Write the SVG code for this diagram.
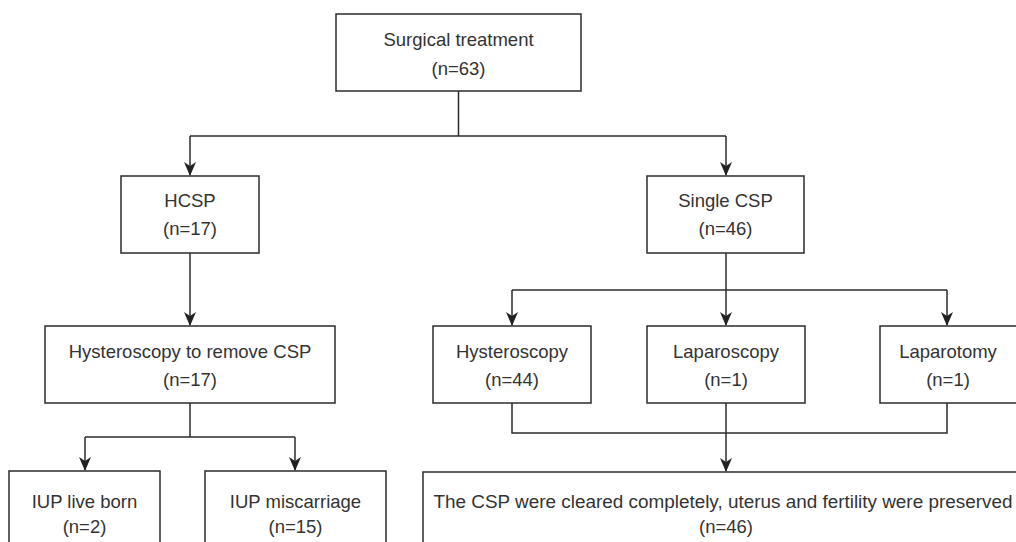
<svg xmlns="http://www.w3.org/2000/svg" width="1016" height="542" viewBox="0 0 1016 542">
<style>
.box{fill:#fff;stroke:#2b2b2b;stroke-width:1.5}
.t{font-family:"Liberation Sans",Arial,Helvetica,sans-serif;font-size:18.5px;fill:#333;text-anchor:middle}
.c{fill:none;stroke:#2b2b2b;stroke-width:1.5}
</style>
<defs>
<marker id="ah" markerUnits="userSpaceOnUse" markerWidth="14" markerHeight="12" viewBox="0 0 14 12" refX="13" refY="6" orient="auto">
<path d="M0,0 L14,6 L0,12 L4,6 z" fill="#222"/>
</marker>
</defs>
<rect width="1016" height="542" fill="#fff"/>
<g id="connectors">
<path class="c" d="M458.5,91 V136"/>
<path class="c" d="M190,136 H726"/>
<path class="c" d="M190,136 V175" marker-end="url(#ah)"/>
<path class="c" d="M726,136 V175" marker-end="url(#ah)"/>
<path class="c" d="M190,253 V325" marker-end="url(#ah)"/>
<path class="c" d="M190,403 V437"/>
<path class="c" d="M85,437 H295"/>
<path class="c" d="M85,437 V470" marker-end="url(#ah)"/>
<path class="c" d="M295,437 V470" marker-end="url(#ah)"/>
<path class="c" d="M726,253 V290"/>
<path class="c" d="M512,290 H947"/>
<path class="c" d="M512,290 V325" marker-end="url(#ah)"/>
<path class="c" d="M726,290 V325" marker-end="url(#ah)"/>
<path class="c" d="M947,290 V325" marker-end="url(#ah)"/>
<path class="c" d="M512,403 V433 H947 V403"/>
<path class="c" d="M726,403 V471" marker-end="url(#ah)"/>
</g>
<g id="surgical">
<rect class="box" x="336" y="14" width="245" height="77"/>
<text class="t" x="458.5" y="46">Surgical treatment</text>
<text class="t" x="458.5" y="75">(n=63)</text>
</g>
<g id="hcsp">
<rect class="box" x="121" y="176" width="138" height="77"/>
<text class="t" x="190" y="207">HCSP</text>
<text class="t" x="190" y="235">(n=17)</text>
</g>
<g id="single">
<rect class="box" x="647" y="176" width="157" height="77"/>
<text class="t" x="725.5" y="207">Single CSP</text>
<text class="t" x="725.5" y="235">(n=46)</text>
</g>
<g id="hyst-remove">
<rect class="box" x="45" y="326" width="290" height="77"/>
<text class="t" x="190" y="358">Hysteroscopy to remove CSP</text>
<text class="t" x="190" y="386">(n=17)</text>
</g>
<g id="hysteroscopy">
<rect class="box" x="433" y="326" width="158" height="77"/>
<text class="t" x="512" y="358">Hysteroscopy</text>
<text class="t" x="512" y="386">(n=44)</text>
</g>
<g id="laparoscopy">
<rect class="box" x="647" y="326" width="158" height="77"/>
<text class="t" x="726" y="358">Laparoscopy</text>
<text class="t" x="726" y="386">(n=1)</text>
</g>
<g id="laparotomy">
<rect class="box" x="880" y="326" width="140" height="77"/>
<text class="t" x="948" y="358">Laparotomy</text>
<text class="t" x="948" y="386">(n=1)</text>
</g>
<g id="live-born">
<rect class="box" x="9" y="471" width="151" height="90"/>
<text class="t" x="84.5" y="508">IUP live born</text>
<text class="t" x="84.5" y="533">(n=2)</text>
</g>
<g id="miscarriage">
<rect class="box" x="205" y="471" width="181" height="90"/>
<text class="t" x="295.5" y="508">IUP miscarriage</text>
<text class="t" x="295.5" y="533">(n=15)</text>
</g>
<g id="cleared">
<rect class="box" x="423" y="472" width="620" height="90"/>
<text class="t" x="723" y="508" style="font-size:18.9px">The CSP were cleared completely, uterus and fertility were preserved</text>
<text class="t" x="726" y="533">(n=46)</text>
</g>
</svg>
